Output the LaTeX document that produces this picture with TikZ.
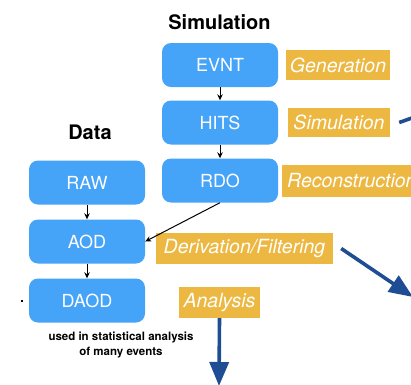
\documentclass[tikz,border=0pt]{standalone}
\usepackage{fontspec}
\setmainfont{TeX Gyre Heros}
\usetikzlibrary{arrows.meta}

\definecolor{boxblue}{HTML}{45A3F8}
\definecolor{labelgold}{HTML}{ECB842}
\definecolor{flowblue}{HTML}{1F4D93}

\begin{document}
\begin{tikzpicture}[>={Stealth[length=6pt, width=5.5pt]}, x=1pt, y=-1pt,
		fmt/.style={fill=boxblue, rounded corners=9pt, minimum width=116pt, minimum height=44pt,
			text=white, font=\fontsize{18}{21}\selectfont},
		stage/.style={fill=labelgold, minimum height=30pt, inner xsep=0pt, text=white,
			font=\fontsize{19.5}{22}\selectfont\itshape},
		title/.style={font=\bfseries\fontsize{20}{24}\selectfont},
		flow/.style={draw=flowblue, line width=3.6pt, -{Triangle[length=24pt, width=19pt]}}]
		\useasboundingbox (0,0) rectangle (411,384);
		\clip (0,0) rectangle (411,384);

		% Column titles
		\node[title] (simtitle) at (219.5,22) {Simulation};
		\node[title] (datatitle) at (90,132) {Data};

		% Macro for a data format box.
		% Usage: \fmtbox{name}{x}{y}{Label}
		\newcommand{\fmtbox}[4]{
			\node[fmt] (#1) at (#2,#3) {#4};
		}

		% Simulation chain
		\fmtbox{evnt}{220}{65}{EVNT}
		\fmtbox{hits}{220}{122.5}{HITS}
		\fmtbox{rdo}{220}{180.5}{RDO}

		% Data chain
		\fmtbox{raw}{87}{182.5}{RAW}
		\fmtbox{aod}{87}{241.5}{AOD}
		\fmtbox{daod}{87}{300.5}{DAOD}

		% Processing steps
		\node[stage, minimum width=104pt] (gen) at (338,65) {Generation};
		\node[stage, minimum width=102pt, minimum height=29pt] (sim) at (339,122.5) {Simulation};
		\node[stage, anchor=west, inner xsep=5pt, minimum height=32pt] (reco) at (282,181) {Reconstruction};
		\node[stage, minimum width=177pt, minimum height=31pt] (deriv) at (244.5,248.5) {Derivation/Filtering};
		\node[stage, minimum width=81pt, minimum height=31pt] (ana) at (219.5,302.5) {Analysis};

		\node[align=center, font=\bfseries\fontsize{11.5}{15}\selectfont] (note) at (121,344.5)
			{used in statistical analysis\\of many events};

		% Format conversions
		\draw[->, line width=1pt] (evnt) -- (hits);
		\draw[->, line width=1pt] (hits) -- (rdo);
		\draw[->, line width=1pt] (raw) -- (aod);
		\draw[->, line width=1pt] (aod) -- (daod);
		\draw[->, line width=1pt] (rdo.south) -- (aod.east);

		% Outgoing flows
		\coordinate (simout) at (440,108);
		\coordinate (derivout) at (413,297);
		\coordinate (anaout) at (219,386);
		\draw[draw=flowblue, line width=3.6pt] ([xshift=9pt]sim.east) -- (simout);
		\draw[flow] ([xshift=8pt]deriv.east) -- (derivout);
		\draw[flow] (ana.south) -- (anaout);

		% Stray mark left of DAOD
		\fill (21,300) rectangle (23,302);
	\end{tikzpicture}
\end{document}
